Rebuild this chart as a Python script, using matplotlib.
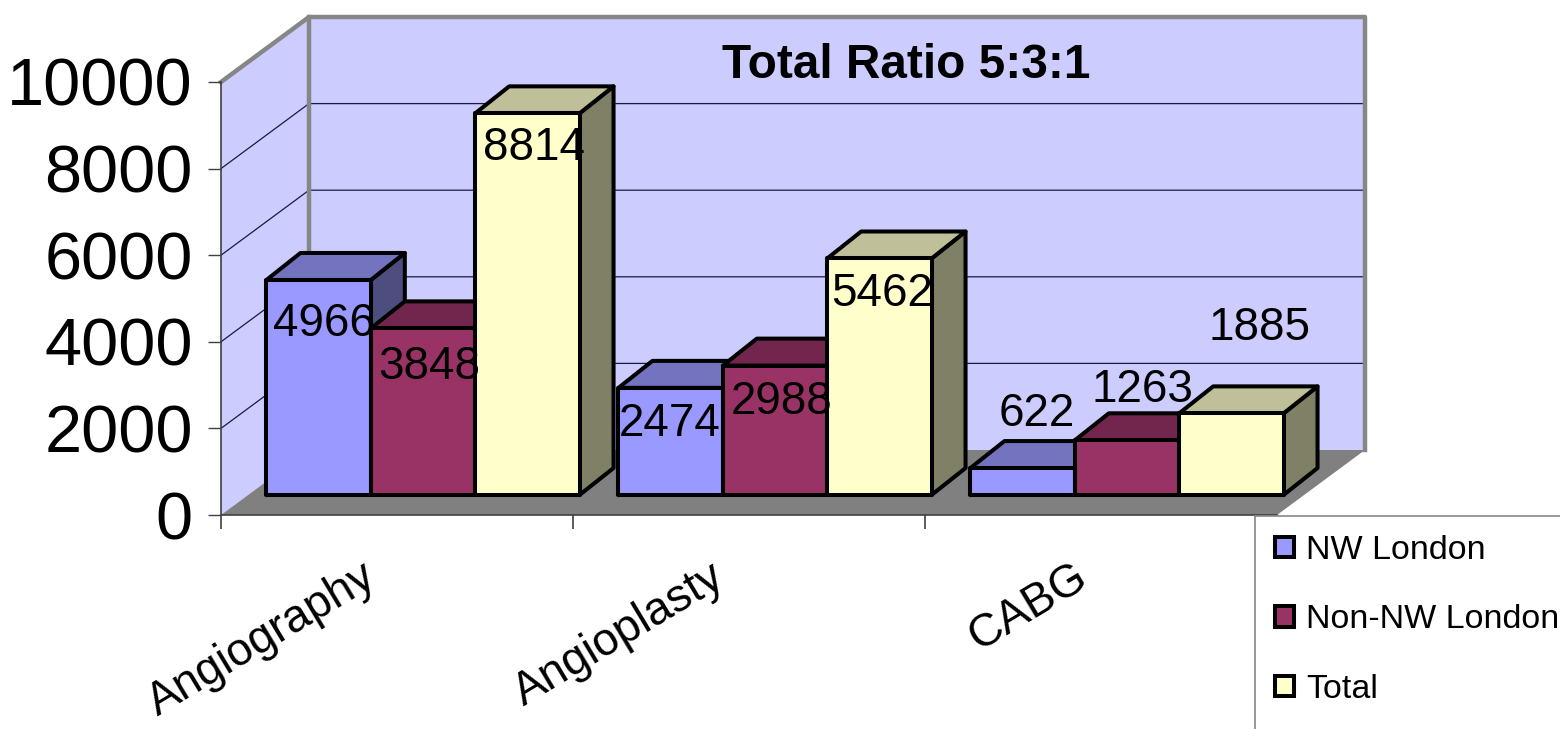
import matplotlib
matplotlib.use("Agg")
import matplotlib.pyplot as plt
from matplotlib.patches import Polygon
from matplotlib.lines import Line2D
from matplotlib.transforms import Affine2D, IdentityTransform
import numpy as np

# ---- data ----
categories = ["Angiography", "Angioplasty", "CABG"]
nw_london = [4966, 2474, 622]
non_nw_london = [3848, 2988, 1263]
total = [8814, 5462, 1885]
series_names = ["NW London", "Non-NW London", "Total"]
y_ticks = [0, 2000, 4000, 6000, 8000, 10000]
title_text = "Total Ratio 5:3:1"

# ---- style / layout ----
W, H = 1560, 729
FONT = "Liberation Sans"
face = ["#9999FF", "#993366", "#FFFFCC"]
top_face = ["#7373BF", "#73264D", "#BFBF99"]
side_face = ["#4D4D80", "#4D1A33", "#808066"]
WALL, FLOOR, BORDER = "#CCCCFF", "#808080", "#868686"
BAR_W = 0.2965
WALL_DEPTH = (88, 65)
BAR_FRONT = (26, 20)
BAR_DEPTH = (34, 27)
EDGE = 2.9
label_offsets = [[(5.5, -44), (6, -39), (6.5, -35)],
                 [(-0.5, -36), (7, -36), (2.5, -36)],
                 [(14, 54), (15.5, 50), (28, 85)]]
cat_offsets = [(-135, -125), (-130, -120), (-73, -92)]

fig = plt.figure(figsize=(W / 100, H / 100), dpi=100, facecolor="white")
ax = fig.add_axes([221 / W, (H - 515) / H, 1056 / W, 433 / H])
ax.set_xlim(-0.5, 2.5)
ax.set_ylim(0, 10000)
ax.patch.set_visible(False)
fig.canvas.draw()


def proj(x, v, d=(0, 0)):
    px = ax.transData.transform((x, v))
    return (px[0] + d[0], px[1] + d[1])


def poly(points, fc, z, ec="none", lw=0):
    ax.add_patch(Polygon(points, closed=True, facecolor=fc, edgecolor=ec, linewidth=lw,
                         transform=IdentityTransform(), clip_on=False, zorder=z,
                         joinstyle="round"))


def line(points, color, lw, z):
    xs, ys = zip(*points)
    ax.add_line(Line2D(xs, ys, color=color, lw=lw, transform=IdentityTransform(),
                       clip_on=False, zorder=z, solid_capstyle="projecting"))


xmin, xmax = ax.get_xlim()
vmax = y_ticks[-1]
poly([proj(xmin, 0, WALL_DEPTH), proj(xmax, 0, WALL_DEPTH), proj(xmax, vmax, WALL_DEPTH),
      proj(xmin, vmax, WALL_DEPTH)], WALL, 0.1)
poly([proj(xmin, 0), proj(xmin, 0, WALL_DEPTH), proj(xmin, vmax, WALL_DEPTH), proj(xmin, vmax)],
     WALL, 0.1)
poly([proj(xmin, 0), proj(xmax, 0), proj(xmax, 0, WALL_DEPTH), proj(xmin, 0, WALL_DEPTH)],
     FLOOR, 0.2)
for t in y_ticks[1:-1]:
    line([proj(xmin, t), proj(xmin, t, WALL_DEPTH), proj(xmax, t, WALL_DEPTH)],
         "#1a1a40", 0.9, 0.3)
line([proj(xmin, vmax), proj(xmin, vmax, WALL_DEPTH), proj(xmax, vmax, WALL_DEPTH),
      proj(xmax, 0, WALL_DEPTH)], BORDER, 3.2, 0.4)
line([proj(xmin, 0, WALL_DEPTH), proj(xmin, vmax, WALL_DEPTH)], BORDER, 3.2, 0.4)

# ---- bars ----
front = ax.transData + Affine2D().translate(*BAR_FRONT)
back_d = (BAR_FRONT[0] + BAR_DEPTH[0], BAR_FRONT[1] + BAR_DEPTH[1])
containers = []
z = 1.0
for s, values in enumerate([nw_london, non_nw_london, total]):
    xs = np.arange(len(categories)) + (s - 1) * BAR_W
    cont = ax.bar(xs, values, BAR_W, color=face[s], edgecolor="black", linewidth=EDGE,
                  label=series_names[s], transform=front, clip_on=False, zorder=z + 0.2,
                  joinstyle="round")
    containers.append(cont)
    for x, v in zip(xs, values):
        l, r = x - BAR_W / 2, x + BAR_W / 2
        poly([proj(r, 0, BAR_FRONT), proj(r, 0, back_d), proj(r, v, back_d), proj(r, v, BAR_FRONT)],
             side_face[s], z, "black", EDGE)
        poly([proj(l, v, BAR_FRONT), proj(r, v, BAR_FRONT), proj(r, v, back_d), proj(l, v, back_d)],
             top_face[s], z + 0.1, "black", EDGE)
    z += 1.0
ax.set_xlim(xmin, xmax)
ax.set_ylim(0, vmax)

# ---- data labels ----
for s, values in enumerate([nw_london, non_nw_london, total]):
    for c, v in enumerate(values):
        ax.annotate(str(v), xy=(c + (s - 1) * BAR_W, v), xycoords=front,
                    xytext=label_offsets[c][s], textcoords="offset pixels",
                    ha="center", va="center", fontsize=33, family=FONT, zorder=10,
                    annotation_clip=False)

# ---- axes ----
for name in ("top", "right"):
    ax.spines[name].set_visible(False)
for name in ("left", "bottom"):
    ax.spines[name].set_color("#404040")
    ax.spines[name].set_linewidth(1.2)
    ax.spines[name].set_zorder(0.5)
ax.set_yticks(y_ticks)
ax.set_yticklabels([str(t) for t in y_ticks], fontsize=48, family=FONT)
ax.tick_params(axis="y", length=9.4, width=1.0, color="#404040", pad=11)
ax.set_xticks([-0.5, 0.5, 1.5])
ax.set_xticklabels([])
ax.tick_params(axis="x", length=10, width=1.2, color="#404040")
for c, name in enumerate(categories):
    ax.annotate(name, xy=(c, 0), xycoords="data", xytext=cat_offsets[c],
                textcoords="offset pixels", ha="center", va="center", rotation=31,
                fontsize=33, family=FONT, annotation_clip=False)

fig.text(906 / W, 1 - 66 / H, title_text, ha="center", va="center", fontsize=34.4,
         fontweight="bold", family=FONT)

# ---- legend ----
fig.add_artist(Line2D([1255 / W, 1255 / W], [0, 1 - 516 / H], color=BORDER, lw=1.2))
fig.add_artist(Line2D([1255 / W, 1], [1 - 516 / H, 1 - 516 / H], color=BORDER, lw=1.2))
ax.legend(handles=containers, loc="upper left", bbox_to_anchor=(1275 / W, 1 - 535 / H),
          bbox_transform=fig.transFigure, frameon=False, borderpad=0, borderaxespad=0,
          prop={"family": FONT, "size": 24.5}, labelspacing=1.13, handlelength=0.56,
          handleheight=0.56, handletextpad=0.35)

fig.savefig("out.png", dpi=100)
